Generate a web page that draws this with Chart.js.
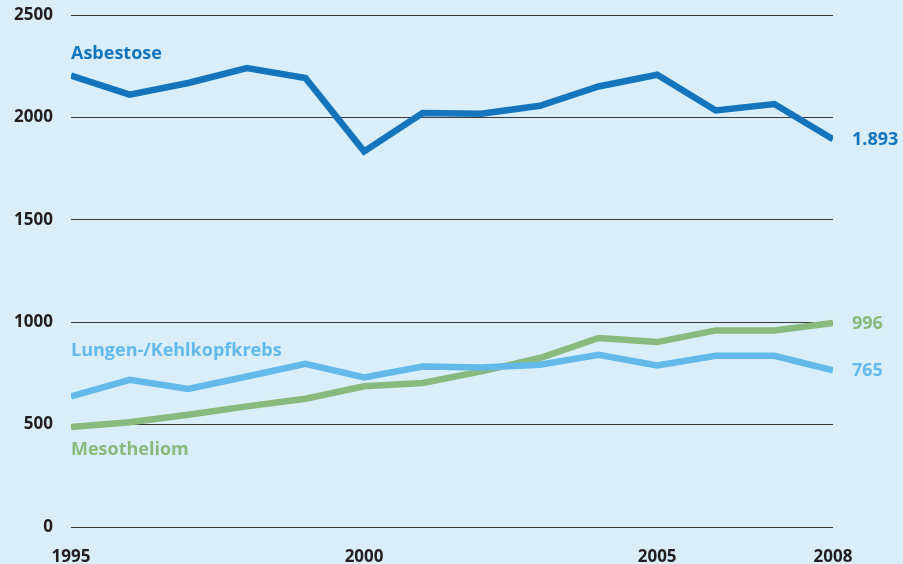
<!DOCTYPE html>
<html>
<head>
<meta charset="utf-8">
<script src="https://cdn.jsdelivr.net/npm/chart.js@4/dist/chart.umd.min.js"></script>
<style>
    html, body { margin: 0; padding: 0; background: #d9eef9; }
    #wrap { width: 903px; height: 564px; }
</style>
</head>
<body>
<div id="wrap"><canvas id="chart" width="903" height="564"></canvas></div>
<script>
const years = [1995, 1996, 1997, 1998, 1999, 2000, 2001, 2002, 2003, 2004, 2005, 2006, 2007, 2008];
const asbestose = [2204, 2111, 2168, 2241, 2192, 1834, 2021, 2018, 2057, 2151, 2208, 2034, 2065, 1893];
const lungenKrebs = [638, 719, 674, 735, 797, 730, 784, 779, 792, 841, 789, 836, 836, 765];
const mesotheliom = [488, 511, 548, 589, 626, 687, 703, 760, 825, 923, 903, 960, 960, 996];
const xTicks = [1995, 2000, 2005, 2008];
const yTicks = [0, 500, 1000, 1500, 2000, 2500];

const seriesNames = ["Asbestose", "Lungen-/Kehlkopfkrebs", "Mesotheliom"];
const endLabels = ["1.893", "765", "996"];
const colors = ["#1474bc", "#63b9e9", "#89b97c"];
// name label offset from first point (px)
const nameOffsets = [-22, -45, 23];

const FONT = "'Open Sans', 'DejaVu Sans', sans-serif";

// LABELS
const labelPlugin = {
    id: "seriesLabels",
    afterDatasetsDraw(chart) {
        const ctx = chart.ctx;
        ctx.save();
        ctx.font = "bold 18px " + FONT;
        ctx.textBaseline = "middle";
        chart.data.datasets.forEach((ds, i) => {
            const pts = chart.getDatasetMeta(i).data;
            const first = pts[0];
            const last = pts[pts.length - 1];
            ctx.fillStyle = colors[i];
            ctx.textAlign = "left";
            ctx.fillText(seriesNames[i], first.x, first.y + nameOffsets[i]);
            ctx.fillText(endLabels[i], last.x + 19, last.y + 1);
        });
        ctx.restore();
    }
};

const makeSet = (data, i) => ({
    label: seriesNames[i],
    data: data.map((v, k) => ({ x: years[k], y: v })),
    borderColor: colors[i],
    borderWidth: 6.5,
    pointRadius: 0,
    tension: 0,
    fill: false,
    borderJoinStyle: "miter",
    borderCapStyle: "butt"
});

new Chart(document.getElementById("chart"), {
    type: "line",
    data: {
        datasets: [
            makeSet(asbestose, 0),
            makeSet(lungenKrebs, 1),
            makeSet(mesotheliom, 2)
        ]
    },
    options: {
        responsive: false,
        animation: false,
        layout: { padding: { top: 15, right: 70, bottom: 0, left: 0 } },
        plugins: {
            legend: { display: false },
            tooltip: { enabled: false }
        },
        scales: {
            x: {
                type: "linear",
                min: 1995,
                max: 2008,
                afterBuildTicks: s => { s.ticks = xTicks.map(v => ({ value: v })); },
                afterFit: s => { s.height = 37; },
                grid: { display: false },
                border: { display: false },
                ticks: {
                    padding: 12,
                    color: "#231f20",
                    font: { family: FONT, size: 17, weight: "bold" },
                    callback: v => String(v),
                    maxRotation: 0
                }
            },
            y: {
                min: 0,
                max: 2500,
                afterBuildTicks: s => { s.ticks = yTicks.map(v => ({ value: v })); },
                afterFit: s => {
                    s.width = 71;
                    s.paddingTop = 0;
                    s.paddingBottom = 0;
                },
                grid: { color: "#3a3a3a", lineWidth: 1, drawTicks: false },
                border: { display: false },
                ticks: {
                    padding: 18,
                    color: "#231f20",
                    font: { family: FONT, size: 17, weight: "bold" },
                    callback: v => String(v)
                }
            }
        }
    },
    plugins: [labelPlugin]
});
</script>
</body>
</html>
